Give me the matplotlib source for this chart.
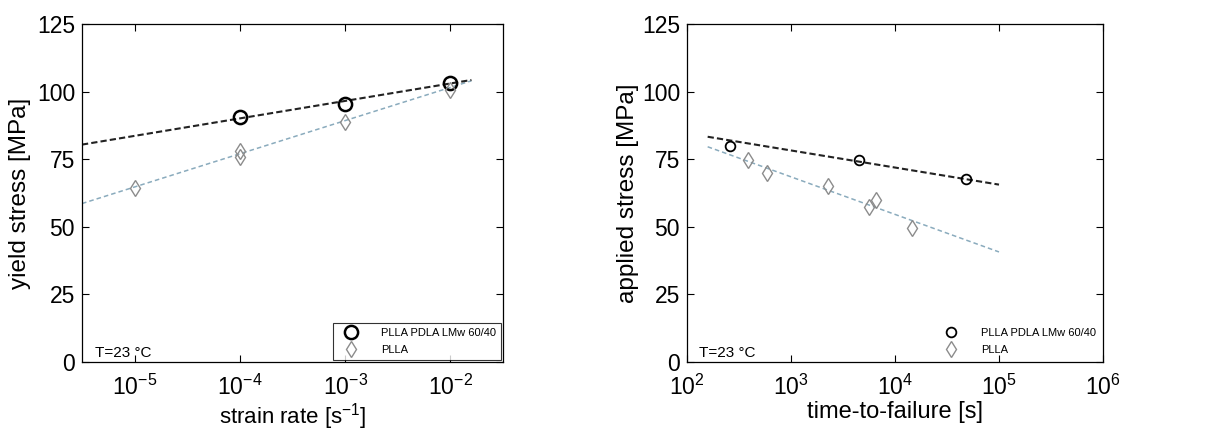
import numpy as np
from matplotlib import pyplot as plt
from matplotlib.ticker import FixedLocator, NullLocator

plt.rcParams['font.family'] = ['Liberation Sans', 'DejaVu Sans']
plt.rcParams['mathtext.fontset'] = 'custom'
plt.rcParams['mathtext.rm'] = 'Liberation Sans'
plt.rcParams['mathtext.it'] = 'Liberation Sans'
plt.rcParams['mathtext.default'] = 'rm'

# left panel: yield stress vs strain rate
rate_blend = [1e-4, 1e-3, 1e-2]
yield_blend = [90.7, 95.4, 103.3]
rate_plla = [1e-5, 1e-4, 1e-4, 1e-3, 1e-2]
yield_plla = [64.4, 78.1, 75.9, 88.8, 100.6]
fit_rate = [10**-5.5, 10**-1.8]
fit_yield_blend = [80.4, 104.3]
fit_yield_plla = [58.6, 104.0]
rate_ticks = [1e-5, 1e-4, 1e-3, 1e-2]
rate_labels = ['$10^{-5}$', '$10^{-4}$', '$10^{-3}$', '$10^{-2}$']

# right panel: applied stress vs time-to-failure
ttf_blend = [261, 4470, 48500]
stress_blend = [80.0, 74.7, 67.6]
ttf_plla = [386, 592, 2254, 5580, 6610, 14700]
stress_plla = [74.8, 69.8, 65.0, 57.4, 59.8, 49.6]
fit_ttf = [158, 1e5]
fit_stress_blend = [83.3, 65.6]
fit_stress_plla = [79.6, 40.7]
ttf_ticks = [1e2, 1e3, 1e4, 1e5, 1e6]
ttf_labels = ['$10^{2}$', '$10^{3}$', '$10^{4}$', '$10^{5}$', '$10^{6}$']

yticks = [0, 25, 50, 75, 100, 125]
blue = '#8aabbd'
grey = '#8c8c8c'

fig = plt.figure(figsize=(12.11, 4.32), dpi=100)
ax1 = fig.add_axes([82/1211, 1-362/432, 421/1211, 338/432])
ax2 = fig.add_axes([687/1211, 1-362/432, 416/1211, 338/432])

def style(ax, ticks, labels):
    ax.set_ylim(0, 125)
    ax.set_yticks(yticks)
    ax.xaxis.set_major_locator(FixedLocator(ticks))
    ax.set_xticklabels(labels)
    ax.xaxis.set_minor_locator(NullLocator())
    ax.tick_params(direction='in', top=True, right=True, labelsize=16.5, length=5, width=0.8)
    ax.tick_params(axis='x', pad=9)
    ax.tick_params(axis='y', pad=5)
    for s in ax.spines.values():
        s.set_linewidth(0.9)

# left
ax1.plot(fit_rate, fit_yield_plla, '--', color=blue, lw=1.1, dashes=(3, 2))
ax1.plot(fit_rate, fit_yield_blend, '--', color='#222222', lw=1.5, dashes=(3, 1.5))
ax1.plot(rate_blend, yield_blend, 'o', mfc='none', mec='black', ms=9.5, mew=1.8,
         label='PLLA PDLA LMw 60/40')
ax1.plot(rate_plla, yield_plla, 'd', mfc='none', mec=grey, ms=8.5, mew=1.0, label='PLLA')
ax1.set_xscale('log')
ax1.set_xlim(10**-5.5, 10**-1.5)
style(ax1, rate_ticks, rate_labels)
ax1.set_xlabel('strain rate [s$^{-1}$]', fontsize=16, labelpad=1)
ax1.set_ylabel('yield stress [MPa]', fontsize=17.5, labelpad=4)
ax1.text(0.03, 0.015, 'T=23 °C', transform=ax1.transAxes, fontsize=11)
leg = ax1.legend(loc='lower right', fontsize=8, frameon=True, fancybox=False,
                 edgecolor='black', borderaxespad=0.15, handletextpad=1.6,
                 borderpad=0.5, labelspacing=0.6, handlelength=2.2)
leg.get_frame().set_linewidth(0.8)

# right
ax2.plot(fit_ttf, fit_stress_plla, '--', color=blue, lw=1.1, dashes=(3, 2))
ax2.plot(fit_ttf, fit_stress_blend, '--', color='#222222', lw=1.5, dashes=(3, 1.5))
ax2.plot(ttf_blend, stress_blend, 'o', mfc='none', mec='black', ms=7, mew=1.3,
         label='PLLA PDLA LMw 60/40')
ax2.plot(ttf_plla, stress_plla, 'd', mfc='none', mec=grey, ms=8.5, mew=1.0, label='PLLA')
ax2.set_xscale('log')
ax2.set_xlim(1e2, 1e6)
style(ax2, ttf_ticks, ttf_labels)
ax2.set_xlabel('time-to-failure [s]', fontsize=17, labelpad=1)
ax2.set_ylabel('applied stress [MPa]', fontsize=17.5, labelpad=2)
ax2.text(0.03, 0.015, 'T=23 °C', transform=ax2.transAxes, fontsize=11)
ax2.legend(loc='lower right', fontsize=8, frameon=False, borderaxespad=0.15,
           handletextpad=1.6, borderpad=0.5, labelspacing=0.6, handlelength=2.2)

fig.savefig('out.png', dpi=100)
